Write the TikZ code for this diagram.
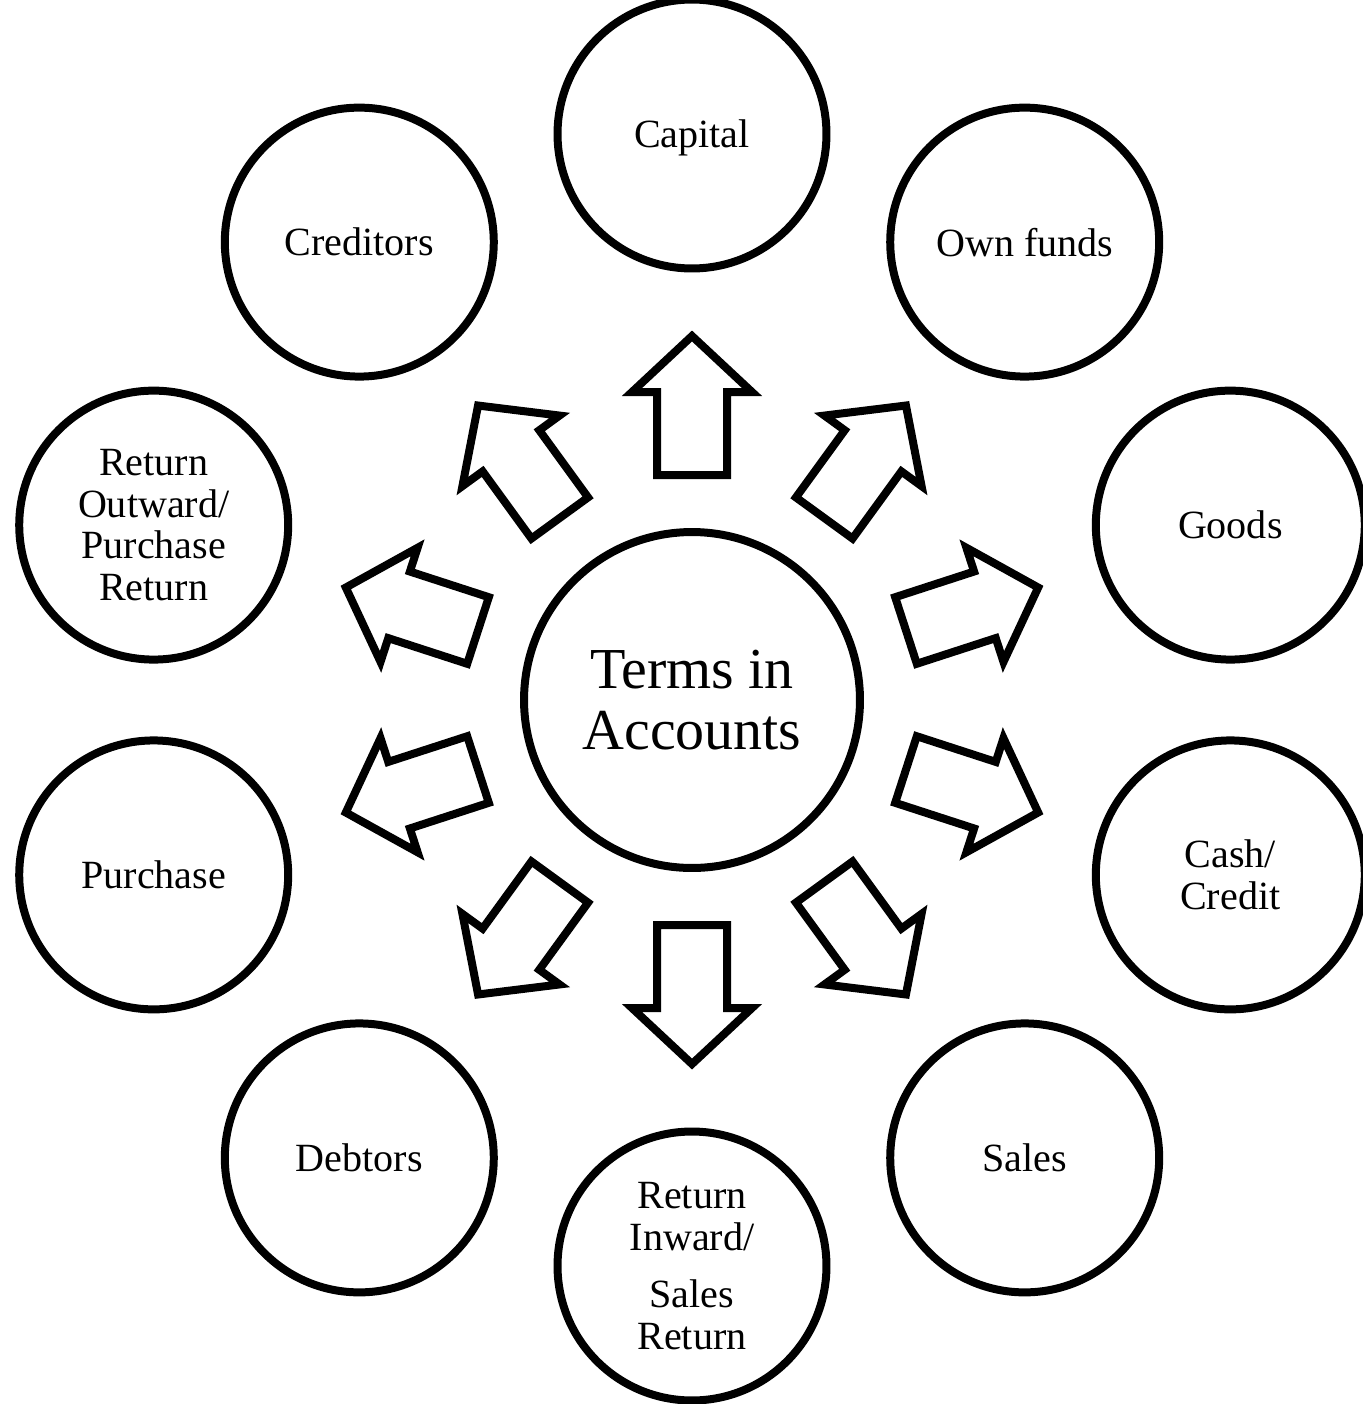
\documentclass[tikz,border=0pt]{standalone}
\usepackage{fontspec}
\setmainfont{Liberation Serif}
\begin{document}
\begin{tikzpicture}[x=0.02cm, y=-0.02cm,
  term/.style={circle, draw, line width=4.55pt, minimum size=5.38cm, inner sep=0pt,
    align=center, font=\fontsize{22.8pt}{23.6pt}\selectfont},
  hub/.style={circle, draw, line width=4.55pt, minimum size=6.72cm, inner sep=0pt,
    align=center, font=\fontsize{33pt}{34.7pt}\selectfont},
  blockarrow/.style={draw, line width=4.55pt, line join=miter, fill=white}]
  \useasboundingbox (0,0) rectangle (1363,1404);

  % central hub
  \node[hub] (terms) at (692,700) {Terms in\\Accounts};

  % surrounding terms, evenly spaced on a ring
  \node[term, text depth=0pt] (capital) at (692,134) {Capital};
  \node[term] (ownfunds) at (1024.7,242.1) {Own funds};
  \node[term] (goods)    at (1230.3,525.1) {Goods};
  \node[term] (cash)     at (1230.3,874.9) {Cash/\\Credit};
  \node[term] (sales)    at (1024.7,1157.9){Sales};
  \node[term] (retin)    at (692,1266)     {Return\\Inward/\\[9pt]Sales\\Return};
  \node[term] (debtors)  at (359.3,1157.9) {Debtors};
  \node[term] (purchase) at (153.7,874.9)  {Purchase};
  \node[term] (retout)   at (153.7,525.1)  {Return\\Outward/\\Purchase\\Return};
  \node[term] (creditors)at (359.3,242.1)  {Creditors};

  % outline block arrows pointing from the hub to each term
  \foreach \a in {90,54,18,-18,-54,-90,-126,-162,162,126} {
    \begin{scope}[shift={(terms.center)}, rotate=\a]
      \draw[blockarrow] (225,-35) -- (308,-35) -- (308,-60) -- (364,0)
        -- (308,60) -- (308,35) -- (225,35) -- cycle;
    \end{scope}
  }
\end{tikzpicture}
\end{document}
